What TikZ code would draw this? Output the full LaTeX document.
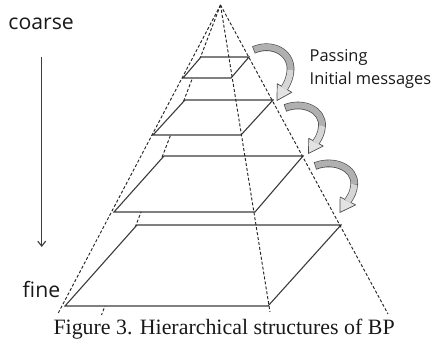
\documentclass[tikz,border=0pt]{standalone}
\usepackage{fontspec}
\setmainfont{Liberation Serif}
\newfontfamily\labelfont{Open Sans}
\usetikzlibrary{arrows.meta}
\definecolor{edgegray}{HTML}{3C3C3C}
\newcommand\curvedarrow[1]{%
\begin{scope}[#1]
 \draw[black!70, line width=7.6pt] (0,0) .. controls (18,-8) and (38,2) .. (37,20) .. controls (36.5,28) and (34,33) .. (31,38);
 \filldraw[fill=gray!22, draw=black!70, line width=0.7pt, line join=round] (38.3,42.3) -- (23.5,50.5) -- (23.7,33.7) -- cycle;
 \draw[gray!62, line width=6.2pt, shorten <=0.7pt] (0,0) .. controls (18,-8) and (38,2) .. (37,20);
 \draw[gray!32, line width=6.2pt, shorten >=-0.6pt] (37,20) .. controls (36.5,28) and (34,33) .. (31,38);
\end{scope}}
\begin{document}
\begin{tikzpicture}[x=1pt,y=-1pt,
  layer/.style={draw=edgegray, line width=1.1pt, fill=white, line join=miter},
  dashline/.style={draw=black!85, line width=0.95pt, dash pattern=on 3pt off 2pt},
  lbl/.style={inner sep=0pt, anchor=base west, text=black!90},
]
\useasboundingbox (0,0) rectangle (433,344);
\coordinate (apex) at (220.5,5);
\coordinate (blEnd) at (101.5,315);
\coordinate (flEnd) at (58,313.5);
\coordinate (frEnd) at (270,312);
\coordinate (brEnd) at (388,314);
% hidden back-left edge
\draw[dashline] (apex) -- (blEnd);
% layers
\draw[layer] (201,57) -- (249,57) -- (231,78) -- (183,78) -- cycle;
\draw[layer] (185,100) -- (273,100) -- (241,135) -- (153,135) -- cycle;
\draw[layer] (164,156) -- (303,156) -- (255,212) -- (114,212) -- cycle;
\draw[layer] (137,225) -- (341,225) -- (268,306) -- (65,306) -- cycle;
% other edges
\draw[dashline] (apex) -- (flEnd);
\draw[dashline] (apex) -- (frEnd);
\draw[dashline] (apex) -- (brEnd);
% curved arrows
\curvedarrow{shift={(253.5,50)}}
\curvedarrow{shift={(285,108)}, yscale=0.9}
\curvedarrow{shift={(315,166)}, xscale=1.06, yscale=0.92}
% vertical arrow
\coordinate (vtop) at (41.7,57);
\coordinate (vbot) at (41.7,247);
\draw[edgegray, line width=1.1pt, -{Straight Barb[length=5pt,width=8pt]}] (vtop) -- (vbot);
% labels
\node[lbl, font=\labelfont\fontsize{21.2}{24}\selectfont] (coarse) at (8.3,29.3) {coarse};
\node[lbl, font=\labelfont\fontsize{21.2}{24}\selectfont] (fine) at (22.5,297) {fine};
\node[lbl, font=\labelfont\fontsize{16.4}{20}\selectfont] (passing) at (309.5,61.7) {Passing};
\node[lbl, font=\labelfont\fontsize{16.4}{20}\selectfont] (initial) at (309.5,85) {Initial messages};
\node[lbl, font=\fontsize{21.9}{25}\selectfont] (caption) at (53.3,334) {Figure 3. Hierarchical structures of BP};
\end{tikzpicture}
\end{document}
